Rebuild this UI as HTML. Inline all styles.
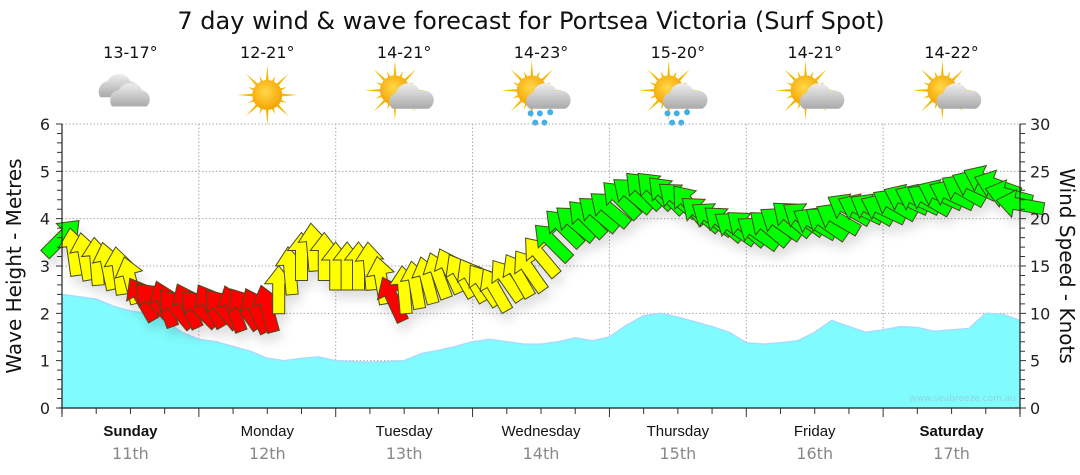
<!DOCTYPE html>
<html><head><meta charset="utf-8"><style>
body{margin:0;background:#fff;width:1080px;height:475px;overflow:hidden;font-family:"DejaVu Sans","Liberation Sans",sans-serif}
svg{display:block}
</style></head><body>
<svg id="chart" width="1080" height="475" xmlns="http://www.w3.org/2000/svg">
<defs>
<radialGradient id="sunG" cx="45%" cy="40%" r="60%"><stop offset="0" stop-color="#ffd84a"/><stop offset="1" stop-color="#f5a300"/></radialGradient>
<linearGradient id="cloudG" x1="0" y1="0" x2="0" y2="1"><stop offset="0" stop-color="#eeeeee"/><stop offset="1" stop-color="#a9a9a9"/></linearGradient>
<filter id="sh" x="-30%" y="-30%" width="160%" height="180%"><feDropShadow dx="3" dy="8" stdDeviation="5" flood-color="#000" flood-opacity="0.12"/></filter>
</defs>
<text x="531" y="29" text-anchor="middle" font-size="24" fill="#111">7 day wind &amp; wave forecast for Portsea Victoria (Surf Spot)</text>
<g id="icons"></g>
<g id="grid"></g>
<g id="wave"></g>
<g id="wind" filter="url(#sh)"></g>
<g id="axes"></g>
<text transform="translate(21,266) rotate(-90)" text-anchor="middle" font-size="20" fill="#111">Wave Height - Metres</text>
<text transform="translate(1060,266) rotate(90)" text-anchor="middle" font-size="20" fill="#111">Wind Speed - Knots</text>
<text x="1016" y="401" text-anchor="end" font-size="9" fill="#8fd3e0">www.seabreeze.com.au</text>
</svg>
<script>
const days=["Sunday","Monday","Tuesday","Wednesday","Thursday","Friday","Saturday"];
const dates=["11th","12th","13th","14th","15th","16th","17th"];
const boldDays=[true,false,false,false,false,false,true];
const temps=["13-17°","12-21°","14-21°","14-23°","15-20°","14-21°","14-22°"];
const weather=["cloudy","sunny","partly","showers","showers","partly","partly"];
const waveTicks=[0,1,2,3,4,5,6];
const windTicks=[0,5,10,15,20,25,30];
// wave height (m), 3-hourly
const waveHeight=[2.4,2.35,2.3,2.15,2.05,2.0,1.85,1.6,1.45,1.4,1.3,1.2,1.05,1.0,1.05,1.08,1.0,0.98,0.97,0.98,1.0,1.15,1.22,1.3,1.4,1.45,1.4,1.35,1.35,1.4,1.48,1.42,1.5,1.75,1.95,2.0,1.92,1.82,1.72,1.6,1.38,1.35,1.38,1.42,1.6,1.85,1.72,1.6,1.65,1.72,1.7,1.62,1.65,1.68,2.0,1.98,1.85];
// wind speed (knots), 2-hourly
const windSpeed=[18,16.5,16,15.5,15,14.5,13.5,11.5,11.3,11,10.5,10.8,10.5,10.8,10.5,10.5,10.5,10.3,10.5,12.5,14.5,16,17,16,15,15,15,15,13.5,11.5,12.5,13,13.5,14,14.5,14,13.5,13,12.5,13.5,14,14.5,16,17.5,19,19.5,20,20.5,21,22,22.5,23,23,22.5,22,21.5,20.5,20,19.5,19,19,18.5,19,19.5,20,20,19.5,19.5,20,21,21,21,21,21.5,22,22,22,22.5,22.5,23,23.5,24,23.5,22.5,21.5];
// wind arrow direction (degrees, screen heading, 0=up)
const windDir=[45,-8,-10,-5,-12,-8,-15,-30,-45,-20,-40,-25,-45,-30,-40,-20,-35,-25,-15,0,-5,0,-5,0,0,0,0,-5,-10,-25,-5,-10,-15,-20,-25,-30,-30,-35,-30,-35,-30,-35,-40,-45,-45,-50,-45,-50,-50,-45,-50,-45,-45,-45,-50,-40,-50,-55,-50,-55,-50,-55,-50,-55,-50,-55,-60,-55,-60,-60,-65,-60,-65,-60,-65,-65,-60,-65,-65,-60,-65,-65,-70,-75,-80];
const NS="http://www.w3.org/2000/svg";
const X0=62,X1=1020,Y0=408,Y1=124;
const dayW=(X1-X0)/7;
function xDay(d){return X0+d*dayW;}
function xHour(h){return X0+h*dayW/24;}
function yWave(m){return Y0-(m/6)*(Y0-Y1);}
function yWind(k){return Y0-(k/30)*(Y0-Y1);}
function mk(tag,attrs,parent){const e=document.createElementNS(NS,tag);for(const k in attrs)e.setAttribute(k,attrs[k]);parent.appendChild(e);return e;}
const grid=document.getElementById('grid'),axes=document.getElementById('axes'),wave=document.getElementById('wave'),wind=document.getElementById('wind'),icons=document.getElementById('icons');
for(let i=1;i<=6;i++){const l=mk('line',{x1:X0,x2:X1,y1:yWave(i),y2:yWave(i),stroke:'#aaa','stroke-dasharray':'1.5,2'},grid);

}
for(let d=1;d<7;d++){const l=mk('line',{x1:xDay(d),x2:xDay(d),y1:Y1,y2:Y0,stroke:'#aaa','stroke-dasharray':'1.5,2'},grid);

}
let pts=`M${X0},${Y0}`;
waveHeight.forEach((h,i)=>{pts+=` L${xHour(i*3).toFixed(1)},${yWave(h).toFixed(1)}`;});
pts+=` L${xHour((waveHeight.length-1)*3)},${Y0} Z`;
const wa=mk('path',{d:pts,fill:'#80fcfe',stroke:'#a6dcff','stroke-width':1.5},wave);


const arrowD="M0,-24 L14,-6 L6,-6 L6,24 L-6,24 L-6,-6 L-14,-6 Z";
windSpeed.forEach((v,i)=>{
 const col=v<12?'#ff0000':(v<17.3?'#ffff00':'#00ff00');
 const a=mk('path',{d:arrowD,fill:col,stroke:'#4a4a20','stroke-width':1,'stroke-linejoin':'miter',transform:`translate(${xHour(i*2).toFixed(1)},${yWind(v).toFixed(1)}) rotate(${windDir[i]})`},wind);
 
 
});
const al=mk('path',{d:`M${X0},${Y1} L${X0},${Y0+6} M${X0-3},${Y0} L${X1},${Y0} M${X1},${Y1} L${X1},${Y0+6}`,stroke:'#222','stroke-width':1.2,fill:'none'},axes);


let tk='';
for(let m=0;m<=30;m++){const y=Y0-m*(Y0-Y1)/30;tk+=`M${X0-(m%5==0?6:5)},${y} L${X0},${y} `;tk+=`M${X1},${y} L${X1+(m%5==0?6:5)},${y} `;}
for(let h=0;h<=168;h+=6){const x=xHour(h);tk+=`M${x},${Y0} L${x},${Y0+(h%24==0?9:6)} `;}
const tp=mk('path',{d:tk,stroke:'#333','stroke-width':1},axes);


waveTicks.forEach(t=>{const e=mk('text',{x:X0-12,y:yWave(t)+6,'text-anchor':'end','font-size':16,fill:'#222'},axes);e.textContent=t;

});
windTicks.forEach(t=>{const e=mk('text',{x:X1+10,y:yWind(t)+6,'font-size':16,fill:'#222'},axes);e.textContent=t;

});
days.forEach((d,i)=>{const cx=xDay(i)+dayW/2;
 const e=mk('text',{x:cx,y:436,'text-anchor':'middle','font-size':15,'font-weight':boldDays[i]?'bold':'normal',fill:'#111','font-family':'Liberation Sans, sans-serif'},axes);e.textContent=d;
 
 
 const f=mk('text',{x:cx,y:459,'text-anchor':'middle','font-size':16,fill:'#888'},axes);f.textContent=dates[i];
 
 
 const t=mk('text',{x:cx,y:58,'text-anchor':'middle','font-size':16,fill:'#111'},icons);t.textContent=temps[i];
 
 
 const g=mk('g',{transform:`translate(${cx},95) scale(1.15)`},icons);
 
 
 const w=weather[i];
 if(w!=='cloudy'){const sx=w==='sunny'?0:-8,sy=w==='sunny'?0:-4;let rays='';
  for(let k=0;k<16;k++){const a=k*Math.PI/8,r2=k%2?18:26;rays+=`M${sx+Math.cos(a-0.12)*11},${sy+Math.sin(a-0.12)*11} L${sx+Math.cos(a)*r2},${sy+Math.sin(a)*r2} L${sx+Math.cos(a+0.12)*11},${sy+Math.sin(a+0.12)*11} Z `;}
  mk('path',{d:rays,fill:'#f3b800'},g);mk('circle',{cx:sx,cy:sy,r:13,fill:'url(#sunG)'},g);}
 if(w==='cloudy'){mk('path',{d:'M-26,2 a9,9 0 0 1 6,-14 a11,11 0 0 1 20,0 a8,8 0 0 1 4,14 Z',fill:'url(#cloudG)'},g);
  mk('path',{d:'M-16,10 a9,9 0 0 1 6,-14 a11,11 0 0 1 20,0 a8,8 0 0 1 4,14 Z',fill:'url(#cloudG)',stroke:'#ddd','stroke-width':0.5},g);}
 if(w==='partly'||w==='showers'){mk('path',{d:'M-10,12 a8,8 0 0 1 3,-14 a11,11 0 0 1 21,-1 a8,8 0 0 1 7,15 Z',fill:'url(#cloudG)'},g);}
 if(w==='showers'){[[-9,16],[-1,16],[8,15],[-5,24],[3,24]].forEach(p=>mk('circle',{cx:p[0],cy:p[1],r:2.6,fill:'#3fb0e8'},g));}
});
</script>
</body></html>
